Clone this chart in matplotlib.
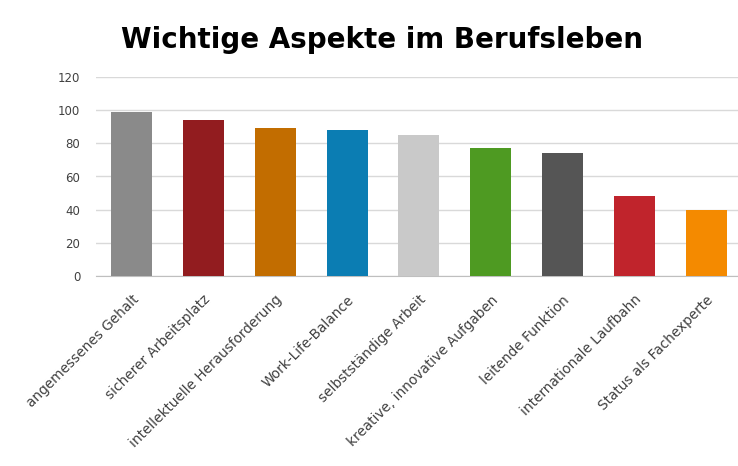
import matplotlib.pyplot as plt

aspekte = [
    "angemessenes Gehalt",
    "sicherer Arbeitsplatz",
    "intellektuelle Herausforderung",
    "Work-Life-Balance",
    "selbstständige Arbeit",
    "kreative, innovative Aufgaben",
    "leitende Funktion",
    "internationale Laufbahn",
    "Status als Fachexperte",
]
werte = [99, 94, 89, 88, 85, 77, 74, 48, 40]
farben = ["#8a8a8a", "#921c1f", "#c26d00", "#0b7db3", "#c9c9c9",
          "#4e9a22", "#555555", "#c0242c", "#f48a00"]
y_ticks = [0, 20, 40, 60, 80, 100, 120]

fig = plt.figure(figsize=(7.38, 4.66), dpi=100)
ax = fig.add_axes([95.6 / 738, 1 - 276 / 466, (738 - 95.6) / 738, 199 / 466])

x = range(len(werte))
ax.bar(x, werte, width=0.57, color=farben, zorder=3)

ax.set_xlim(-0.5, 8.44)
ax.set_ylim(0, 120)
ax.set_yticks(y_ticks)
ax.yaxis.grid(True, color="#d9d9d9", linewidth=1, zorder=0)
ax.tick_params(axis="y", length=0, pad=11, labelsize=8.5, labelcolor="#404040")
ax.tick_params(axis="x", length=0, pad=12)
for side in ["top", "right", "left"]:
    ax.spines[side].set_visible(False)
ax.spines["bottom"].set_color("#bfbfbf")

ax.set_xticks(list(x))
ax.set_xticklabels(aspekte, rotation=45, ha="right", rotation_mode="anchor",
                   fontsize=9.8, color="#404040")

fig.text(0.518, 0.914, "Wichtige Aspekte im Berufsleben", ha="center", va="center",
         fontsize=20, fontweight="bold", color="#000000")

fig.savefig("out.png", dpi=100)
